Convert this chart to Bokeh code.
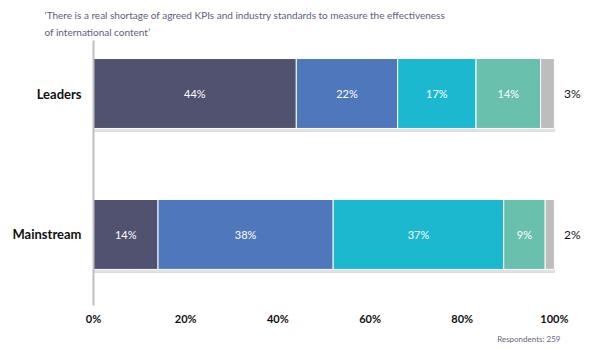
from bokeh.plotting import figure
from bokeh.models import Range1d, FixedTicker, PrintfTickFormatter, Title, ColumnDataSource
from bokeh.core.properties import value
from bokeh.embed import file_html
from bokeh.resources import INLINE

# ---- data ----
groups = ["Leaders", "Mainstream"]
leaders = [44, 22, 17, 14, 3]
mainstream = [14, 38, 37, 9, 2]
colors = ["#50526f", "#4f77bc", "#1bb8d0", "#69c0ac", "#bdbdbd"]
x_ticks = [0, 20, 40, 60, 80, 100]
title_l1 = "\u2018There is a real shortage of agreed KPIs and industry standards to measure the effectiveness"
title_l2 = "of international content\u2019"
note = "Respondents: 259"

FONT = "Lato"
series = [leaders, mainstream]
ypos = {"Leaders": 1.5, "Mainstream": 0.5}

p = figure(width=603, height=350, output_backend="svg", toolbar_location=None,
           x_range=Range1d(0, 110), y_range=Range1d(-0.004, 1.876),
           min_border_left=93, min_border_right=3, min_border_top=40, min_border_bottom=45)
p.outline_line_color = None
p.xgrid.visible = False
p.ygrid.visible = False

for g, vals in zip(groups, series):
    y = ypos[g]
    # shadow
    p.hbar(y=y - 0.022, left=0, right=sum(vals), height=0.496, color="#cfcfcf", alpha=0.6)
    left = 0
    lefts, rights, cols, cx, labs = [], [], [], [], []
    for v, c in zip(vals, colors):
        lefts.append(left); rights.append(left + v); cols.append(c)
        cx.append(left + v / 2); labs.append(f"{v}%")
        left += v
    src = ColumnDataSource(dict(y=[y] * len(vals), left=lefts, right=rights, color=cols))
    p.hbar(y="y", left="left", right="right", height=0.496, fill_color="color",
           line_color="white", line_width=1, source=src)
    # inside labels (all but last)
    p.text(x=cx[:-1], y=[y] * (len(vals) - 1), text=labs[:-1], text_color="white",
           text_font=value(FONT), text_font_size="11px", text_align="center",
           text_baseline="middle")
    # outside label for last segment
    p.text(x=[rights[-1]], y=[y], text=[labs[-1]], text_color="#111111",
           text_font=value(FONT), text_font_size="12px", text_align="center",
           text_baseline="middle", x_offset=18)

# x axis
xa = p.xaxis[0]
xa.ticker = FixedTicker(ticks=x_ticks)
xa.formatter = PrintfTickFormatter(format="%d%%")
xa.axis_line_color = None
xa.major_tick_line_color = None
xa.major_tick_out = 0
xa.major_tick_in = 0
xa.minor_tick_line_color = None
xa.major_label_text_font = FONT
xa.major_label_text_font_style = "bold"
xa.major_label_text_font_size = "11px"
xa.major_label_text_color = "#111111"
xa.major_label_standoff = 6

# y axis
ya = p.yaxis[0]
ya.ticker = FixedTicker(ticks=[ypos[g] for g in groups])
ya.major_label_overrides = {ypos[g]: g for g in groups}
ya.axis_line_color = "#bfbfbf"
ya.axis_line_width = 2
ya.major_tick_line_color = None
ya.major_tick_out = 0
ya.major_tick_in = 0
ya.minor_tick_line_color = None
ya.major_label_text_font = FONT
ya.major_label_text_font_style = "bold"
ya.major_label_text_font_size = "13px"
ya.major_label_text_color = "#111111"
ya.major_label_standoff = 12

# titles (first added sits nearest the frame)
for txt, so in [(title_l2, 1), (title_l1, 6)]:
    t = Title(text=txt, align="left", offset=-49, text_font=FONT, text_font_style="normal",
              text_font_size="10px", text_color="#625c7c", standoff=so, vertical_align="top")
    p.add_layout(t, "above")

nt = Title(text=note, align="right", offset=40, text_font=FONT, text_font_style="normal",
           text_font_size="8px", text_color="#6a6484", standoff=8, vertical_align="bottom")
p.add_layout(nt, "below")

open("out.html", "w").write(file_html(p, INLINE))
